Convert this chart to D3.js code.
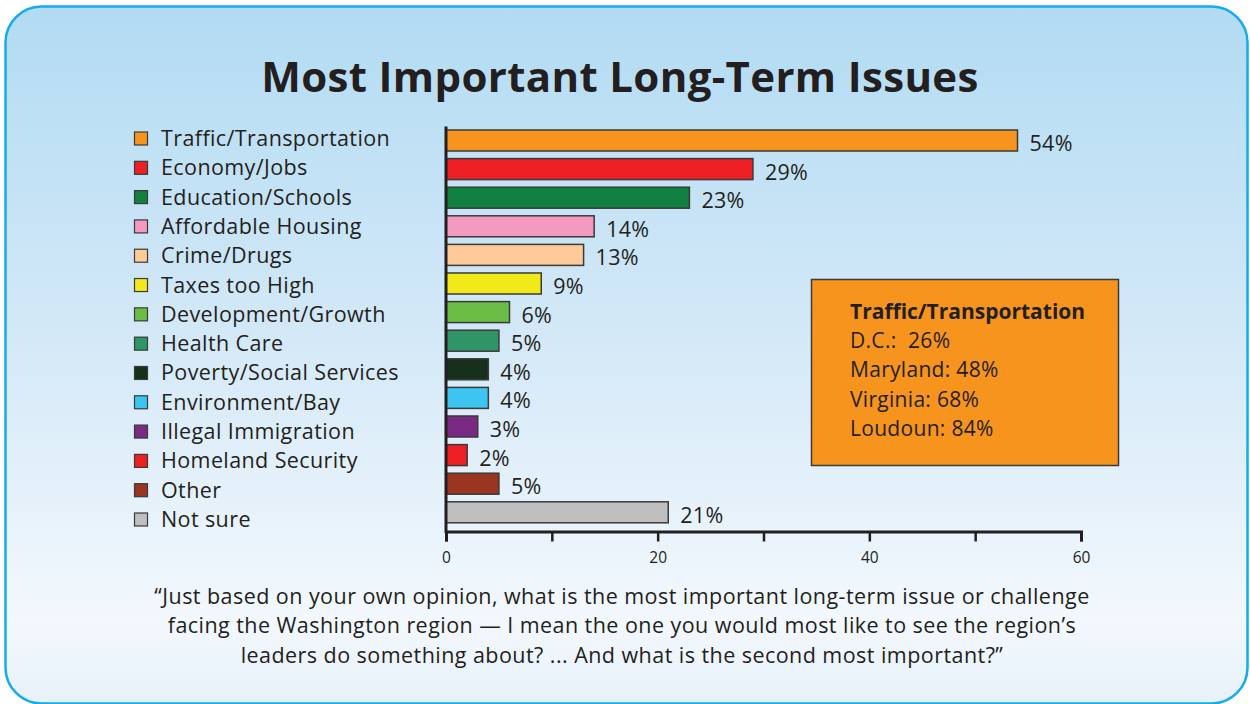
<!DOCTYPE html>
<html>
<head>
<meta charset="utf-8">
<script src="https://cdn.jsdelivr.net/npm/d3@7"></script>
<style>
  html, body { margin: 0; padding: 0; background: #ffffff; }
  svg { display: block; }
  text { font-family: "Open Sans", "Noto Sans", sans-serif; }
</style>
</head>
<body>
<svg id="chart" width="1250" height="704"></svg>
<script>
// Survey answers, share of respondents (%)
const categories = [
  "Traffic/Transportation", "Economy/Jobs", "Education/Schools", "Affordable Housing",
  "Crime/Drugs", "Taxes too High", "Development/Growth", "Health Care",
  "Poverty/Social Services", "Environment/Bay", "Illegal Immigration",
  "Homeland Security", "Other", "Not sure"
];
const values = [54, 29, 23, 14, 13, 9, 6, 5, 4, 4, 3, 2, 5, 21];
const colors = [
  "#f7941d", "#ed2024", "#0f8040", "#f49ac1", "#fecb98", "#f1e91a", "#6bbd45",
  "#2f9566", "#16301b", "#3cc5f0", "#7a2a82", "#ed2024", "#993520", "#bfbfbf"
];
const tickValues = [0, 10, 20, 30, 40, 50, 60];
const tickLabels = [0, 20, 40, 60];

const calloutTitle = "Traffic/Transportation";
const calloutLines = ["D.C.:  26%", "Maryland: 48%", "Virginia: 68%", "Loudoun: 84%"];

const question = [
  "\u201cJust based on your own opinion, what is the most important long-term issue or challenge",
  "facing the Washington region \u2014 I mean the one you would most like to see the region\u2019s",
  "leaders do something about? ... And what is the second most important?\u201d"
];

const ink = "#231f20";
const svg = d3.select("#chart");
const defs = svg.append("defs");

// Panel background
const grad = defs.append("linearGradient")
  .attr("id", "panelGrad").attr("x1", 0).attr("y1", 0).attr("x2", 0).attr("y2", 1);
grad.append("stop").attr("offset", "0%").attr("stop-color", "#b2dbf3");
grad.append("stop").attr("offset", "45%").attr("stop-color", "#d2e8f7");
grad.append("stop").attr("offset", "88%").attr("stop-color", "#f3f8fd");
grad.append("stop").attr("offset", "100%").attr("stop-color", "#e7f1fa");

svg.append("rect")
  .attr("x", 5.5).attr("y", 6.5).attr("width", 1242).attr("height", 697)
  .attr("rx", 36).attr("ry", 36)
  .attr("fill", "url(#panelGrad)")
  .attr("stroke", "#14ade9").attr("stroke-width", 2.5);

// Title
svg.append("text")
  .attr("x", 620).attr("y", 92)
  .attr("text-anchor", "middle")
  .attr("font-size", 42).attr("font-weight", 700)
  .attr("letter-spacing", 0.35)
  .attr("fill", ink)
  .text("Most Important Long-Term Issues");

// Scales
const x = d3.scaleLinear().domain([0, 60]).range([446, 1081]);
const y = d3.scaleBand().domain(categories)
  .range([126.2, 526.6]).paddingInner(0.266).paddingOuter(0.133);
const legendY = d3.scalePoint().domain(categories).range([146, 527]);

// Bars
const g = svg.append("g");
g.selectAll("rect.bar")
  .data(categories)
  .join("rect")
  .attr("class", "bar")
  .attr("x", x(0))
  .attr("y", d => y(d))
  .attr("width", (d, i) => x(values[i]) - x(0))
  .attr("height", y.bandwidth())
  .attr("fill", (d, i) => colors[i])
  .attr("stroke", "#3a3a3a").attr("stroke-width", 1.5);

// Value labels
g.selectAll("text.val")
  .data(categories)
  .join("text")
  .attr("class", "val")
  .attr("x", (d, i) => x(values[i]) + 12)
  .attr("y", d => y(d) + y.bandwidth() / 2 + 10.5)
  .attr("font-size", 21.5)
  .attr("letter-spacing", 0.3)
  .attr("fill", ink)
  .text((d, i) => values[i] + "%");

// Vertical baseline
svg.append("line")
  .attr("x1", x(0)).attr("x2", x(0))
  .attr("y1", 126.5).attr("y2", 533)
  .attr("stroke", ink).attr("stroke-width", 3);

// X axis
const axis = d3.axisBottom(x)
  .tickValues(tickValues)
  .tickSize(10)
  .tickFormat(d => tickLabels.includes(d) ? d : "");
const axG = svg.append("g")
  .attr("transform", "translate(0,531.5)")
  .call(axis);
axG.select(".domain").attr("stroke", ink).attr("stroke-width", 3);
axG.selectAll(".tick line").attr("stroke", ink).attr("stroke-width", 2.5);
axG.selectAll(".tick text")
  .attr("y", 20)
  .attr("font-size", 15.5)
  .attr("font-family", "'Open Sans', sans-serif")
  .attr("fill", ink);

// Legend
const leg = svg.append("g");
leg.selectAll("rect")
  .data(categories)
  .join("rect")
  .attr("x", 134.5).attr("y", d => legendY(d) - 14)
  .attr("width", 13).attr("height", 13)
  .attr("fill", (d, i) => colors[i])
  .attr("stroke", "#3a3a3a").attr("stroke-width", 1.2);
leg.selectAll("text")
  .data(categories)
  .join("text")
  .attr("x", 161).attr("y", d => legendY(d))
  .attr("font-size", 21.5)
  .attr("letter-spacing", 0.4)
  .attr("fill", ink)
  .text(d => d);

// Callout box
svg.append("rect")
  .attr("x", 811.5).attr("y", 279.5).attr("width", 307).attr("height", 186)
  .attr("fill", "#f7941d").attr("stroke", "#3a3a3a").attr("stroke-width", 1.5);
svg.append("text")
  .attr("x", 850).attr("y", 319)
  .attr("font-size", 21).attr("font-weight", 700)
  .attr("fill", ink)
  .text(calloutTitle);
svg.selectAll("text.callout")
  .data(calloutLines)
  .join("text")
  .attr("class", "callout")
  .attr("x", 850).attr("y", (d, i) => 348 + i * 29.3)
  .attr("font-size", 21)
  .attr("letter-spacing", 0.3)
  .style("white-space", "pre")
  .attr("fill", ink)
  .text(d => d);

// Question wording
svg.selectAll("text.q")
  .data(question)
  .join("text")
  .attr("class", "q")
  .attr("x", 622).attr("y", (d, i) => 604 + i * 29.3)
  .attr("text-anchor", "middle")
  .attr("font-size", 21.5)
  .attr("letter-spacing", 0.45)
  .attr("fill", ink)
  .text(d => d);
</script>
</body>
</html>
